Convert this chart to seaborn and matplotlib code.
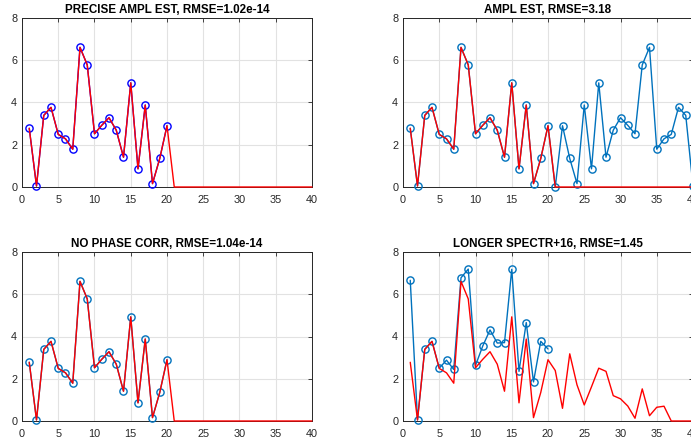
import matplotlib
matplotlib.use("Agg")
import matplotlib.pyplot as plt
import numpy as np
import pandas as pd
import seaborn as sns

# Bin index of the spectrum
bins = list(range(1, 41))

# True amplitudes (first 20 bins carry the signal, the rest are empty)
true_ampl = [2.78, 0.05, 3.39, 3.77, 2.49, 2.28, 1.79, 6.61, 5.78, 2.52,
             2.92, 3.28, 2.69, 1.41, 4.93, 0.86, 3.88, 0.16, 1.35, 2.90,
             0, 0, 0, 0, 0, 0, 0, 0, 0, 0,
             0, 0, 0, 0, 0, 0, 0, 0, 0, 0]

# Precise amplitude estimate (matches the first 20 bins)
precise_est = [2.78, 0.05, 3.39, 3.77, 2.49, 2.28, 1.79, 6.61, 5.78, 2.52,
               2.92, 3.28, 2.69, 1.41, 4.93, 0.86, 3.88, 0.16, 1.35, 2.90]

# Full two-sided amplitude estimate
full_est = [2.78, 0.05, 3.39, 3.77, 2.49, 2.28, 1.79, 6.61, 5.78, 2.52,
            2.92, 3.28, 2.69, 1.41, 4.93, 0.86, 3.88, 0.16, 1.35, 2.90,
            0.00, 2.90, 1.35, 0.16, 3.88, 0.86, 4.93, 1.41, 2.69, 3.28,
            2.92, 2.52, 5.78, 6.61, 1.79, 2.28, 2.49, 3.77, 3.39, 0.05]

# Estimate without phase correction
nophase_est = [2.78, 0.05, 3.39, 3.77, 2.49, 2.28, 1.79, 6.61, 5.78, 2.52,
               2.92, 3.28, 2.69, 1.41, 4.93, 0.86, 3.88, 0.16, 1.35, 2.90]

# Longer spectrum: reference amplitudes and estimate
long_ref = [2.78, 0.05, 3.39, 3.77, 2.49, 2.28, 1.79, 6.61, 5.78, 2.52,
            2.92, 3.28, 2.69, 1.41, 4.93, 0.86, 3.88, 0.16, 1.35, 2.90,
            2.39, 0.60, 3.18, 1.71, 0.76, 1.62, 2.50, 2.35, 1.20, 1.05,
            0.71, 0.13, 1.52, 0.25, 0.65, 0.70, 0.00, 0.00, 0.00, 0.00]
long_est = [6.66, 0.05, 3.39, 3.77, 2.50, 2.88, 2.44, 6.78, 7.19, 2.63,
            3.55, 4.31, 3.69, 3.71, 7.18, 2.35, 4.66, 1.85, 3.77, 3.41]

titles = ["PRECISE AMPL EST, RMSE=1.02e-14",
          "AMPL EST, RMSE=3.18",
          "NO PHASE CORR, RMSE=1.04e-14",
          "LONGER SPECTR+16, RMSE=1.45"]

RED = "#FF0000"
PURE_BLUE = "#0000FF"
MBLUE = "#0072BD"
DARK = "#262626"

sns.set_theme(style="whitegrid")
plt.rcParams["font.family"] = ["Liberation Sans", "DejaVu Sans"]

W, H = 691, 445
fig = plt.figure(figsize=(W / 100, H / 100), dpi=100)

def px_axes(left, top, width, height):
    return fig.add_axes([left / W, (H - top - height) / H, width / W, height / H])

axes = [px_axes(22, 18, 290, 169), px_axes(403, 18, 290, 169),
        px_axes(22, 252, 290, 169), px_axes(403, 252, 290, 169)]

panels = [
    (precise_est, true_ampl, PURE_BLUE),
    (full_est, true_ampl, MBLUE),
    (nophase_est, true_ampl, MBLUE),
    (long_est, long_ref, MBLUE),
]

for ax, title, (est, ref, bcol) in zip(axes, titles, panels):
    est_df = pd.DataFrame({"bin": bins[:len(est)], "amp": est})
    ref_df = pd.DataFrame({"bin": bins[:len(ref)], "amp": ref})
    sns.lineplot(data=est_df, x="bin", y="amp", ax=ax, color=bcol,
                 estimator=None, sort=False, lw=1.0, marker="o", ms=5.2,
                 markerfacecolor="none", markeredgecolor=bcol,
                 markeredgewidth=1.0)
    sns.lineplot(data=ref_df, x="bin", y="amp", ax=ax, color=RED,
                 estimator=None, sort=False, lw=1.0)
    for ln in ax.lines:
        ln.set_clip_on(False)
        ln.set_zorder(3)

    ax.set_xlim(0, 40)
    ax.set_ylim(0, 8)
    ax.set_xticks(range(0, 41, 5))
    ax.set_yticks(range(0, 9, 2))
    ax.set_xlabel("")
    ax.set_ylabel("")
    ax.set_facecolor("white")
    ax.grid(True, color="#e2e2e2", lw=0.8)
    ax.set_axisbelow(True)
    for sp in ax.spines.values():
        sp.set_visible(True)
        sp.set_color(DARK)
        sp.set_linewidth(0.7)
    ax.tick_params(axis="both", which="both", direction="in", top=True,
                   right=True, length=3, width=0.6, color=DARK,
                   labelcolor=DARK, labelsize=7.8)
    ax.tick_params(axis="x", pad=5.5)
    ax.tick_params(axis="y", pad=3.5)
    ax.set_title(title, fontsize=8.4, fontweight="bold", color="black",
                 pad=3.8)

fig.savefig("out.png", dpi=100)
